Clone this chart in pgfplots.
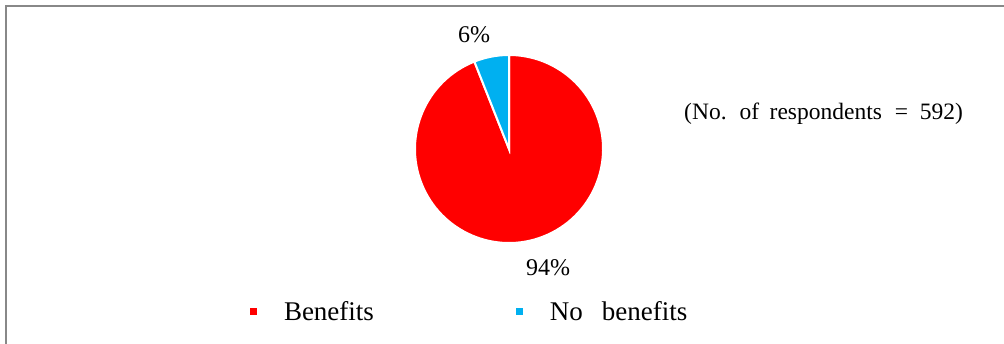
\documentclass[border=0pt]{standalone}
\usepackage{fontspec}
\setmainfont{Liberation Serif}
\usepackage{pgfplots}
\usepackage{pgfplotstable}
\pgfplotsset{compat=1.18}
\definecolor{pieRed}{RGB}{255,0,0}
\definecolor{pieBlue}{RGB}{0,176,240}
\definecolor{frameGray}{RGB}{136,136,136}

\pgfplotstableread{
label value
Benefits 94
NoBenefits 6
}\piedata

\begin{document}
\begin{tikzpicture}
\pgfplotstablegetelem{0}{value}\of\piedata \let\vA\pgfplotsretval
\pgfplotstablegetelem{1}{value}\of\piedata \let\vB\pgfplotsretval
\pgfmathsetmacro{\angB}{90+3.6*\vB}
\begin{axis}[
  scale only axis, width=1004pt, height=344pt,
  xmin=0, xmax=1004, ymin=0, ymax=344,
  hide axis, clip=false,
  legend columns=2,
  legend style={draw=none, fill=none, inner sep=0pt, outer sep=0pt,
    at={(axis cs:250,32)}, anchor=west,
    font=\fontsize{27}{30}\selectfont,
    nodes={inner sep=0pt},
    /tikz/every odd column/.append style={column sep=27pt},
    /tikz/every even column/.append style={column sep=142pt}},
  legend image code/.code={\fill[#1] (0pt,-3.5pt) rectangle (7pt,3.5pt);},
]
\addlegendimage{fill=pieRed, draw=none}
\addlegendentry{Benefits}
\addlegendimage{fill=pieBlue, draw=none}
\addlegendentry{No\hspace{0.7em}benefits}

% frame
\draw[frameGray, line width=2pt] (axis cs:6,0) -- (axis cs:6,338) -- (axis cs:1004,338);

% pie
\fill[pieRed, draw=white, line width=2pt] (axis cs:509,195) -- +(\angB:94pt) arc[start angle=\angB, end angle=450, radius=94pt] -- cycle;
\fill[pieBlue, draw=white, line width=2pt] (axis cs:509,195) -- +(90:94pt) arc[start angle=90, end angle=\angB, radius=94pt] -- cycle;

% labels
\node[font=\fontsize{24}{28}\selectfont] at (axis cs:474,309) {\vB\%};
\node[font=\fontsize{24}{28}\selectfont] at (axis cs:548,76) {\vA\%};
\node[anchor=west, inner sep=0pt, font=\fontsize{23.5}{27}\selectfont] at (axis cs:684,230)
  {(No.\hspace{0.55em}of\hspace{0.45em}respondents\hspace{0.55em}=\hspace{0.5em}592)};
\end{axis}
\pgfresetboundingbox
\useasboundingbox (current axis.south west) rectangle (current axis.north east);
\end{tikzpicture}
\end{document}
